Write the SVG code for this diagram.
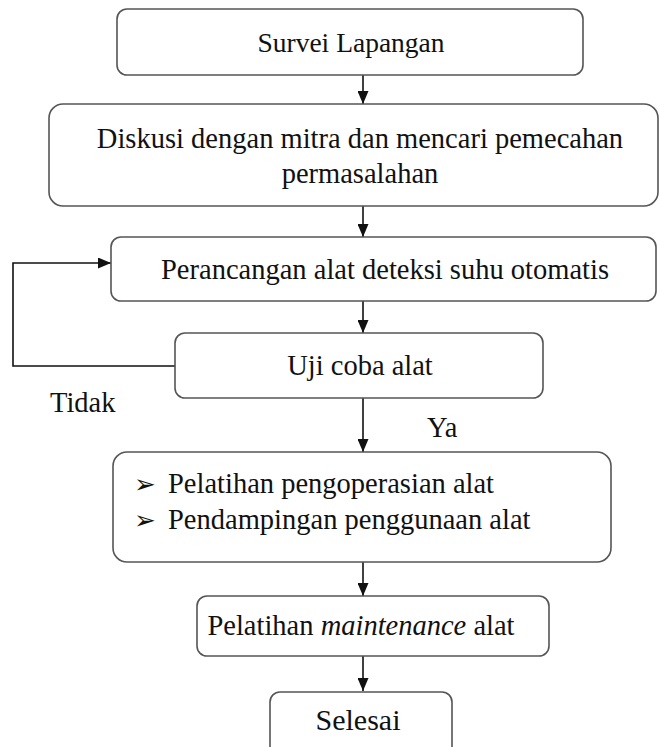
<svg xmlns="http://www.w3.org/2000/svg" width="660" height="747" viewBox="0 0 660 747">
<style>
.box{fill:#fff;stroke:#555;stroke-width:1.6}
.t{font-family:"Liberation Serif","Times New Roman",serif;font-size:28.5px;fill:#111}
.c{text-anchor:middle}
.ln{fill:none;stroke:#111;stroke-width:1.6}
.bul{font-family:"DejaVu Sans",sans-serif;font-size:26px;fill:#111}
</style>
<defs>
<marker id="ah" viewBox="0 0 10 10" refX="10" refY="5" markerWidth="13" markerHeight="11" markerUnits="userSpaceOnUse" orient="auto" preserveAspectRatio="none">
<path d="M0,0 L10,5 L0,10 Z" fill="#111"/>
</marker>
</defs>
<rect width="660" height="747" fill="#fff"/>
<g id="connectors">
<line class="ln" x1="363" y1="75" x2="363" y2="104" marker-end="url(#ah)"/>
<line class="ln" x1="363" y1="206" x2="363" y2="237" marker-end="url(#ah)"/>
<line class="ln" x1="363" y1="301" x2="363" y2="333" marker-end="url(#ah)"/>
<line class="ln" x1="363" y1="398" x2="363" y2="452" marker-end="url(#ah)"/>
<line class="ln" x1="363" y1="562" x2="363" y2="596" marker-end="url(#ah)"/>
<line class="ln" x1="363" y1="656" x2="363" y2="691" marker-end="url(#ah)"/>
<polyline class="ln" points="175,366 13,366 13,263 111,263" marker-end="url(#ah)"/>
<text class="t" x="50" y="412">Tidak</text>
<text class="t" x="427" y="437">Ya</text>
</g>
<g id="n1">
<rect class="box" x="117" y="9" width="466" height="66" rx="10"/>
<text class="t c" x="351" y="52" style="font-size:27.5px">Survei Lapangan</text>
</g>
<g id="n2">
<rect class="box" x="49" y="104" width="609" height="102" rx="14"/>
<text class="t c" x="360" y="148">Diskusi dengan mitra dan mencari pemecahan</text>
<text class="t c" x="360" y="183">permasalahan</text>
</g>
<g id="n3">
<rect class="box" x="111" y="237" width="545" height="64" rx="10"/>
<text class="t c" x="385" y="279">Perancangan alat deteksi suhu otomatis</text>
</g>
<g id="n4">
<rect class="box" x="175" y="333" width="368" height="65" rx="10"/>
<text class="t c" x="360" y="375">Uji coba alat</text>
</g>
<g id="n5">
<rect class="box" x="113" y="452" width="498" height="110" rx="14"/>
<text class="bul" x="134" y="493">➢</text>
<text class="t" x="168" y="493">Pelatihan pengoperasian alat</text>
<text class="bul" x="134" y="529">➢</text>
<text class="t" x="168" y="529">Pendampingan penggunaan alat</text>
</g>
<g id="n6">
<rect class="box" x="197" y="596" width="352" height="60" rx="10"/>
<text class="t c" x="361" y="635">Pelatihan <tspan font-style="italic">maintenance</tspan> alat</text>
</g>
<g id="n7">
<rect class="box" x="270" y="692" width="182" height="70" rx="10"/>
<text class="t c" x="358" y="730" style="font-size:30px">Selesai</text>
</g>
</svg>
